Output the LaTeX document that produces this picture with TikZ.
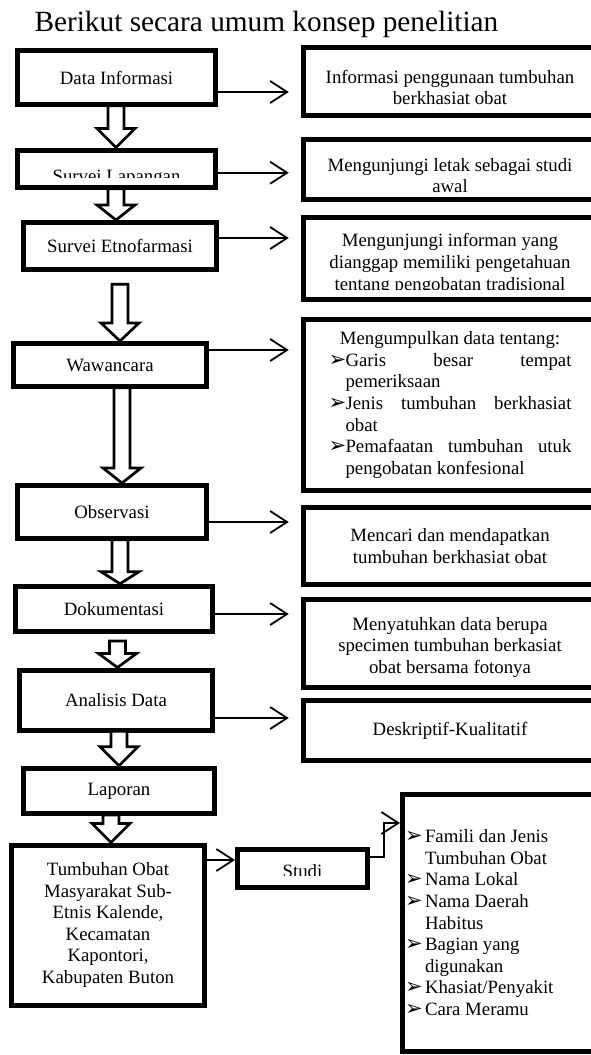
\documentclass[tikz,border=0pt]{standalone}
\usepackage{fontspec}
\setmainfont{Liberation Serif}
\newfontfamily\arrowfont{DejaVu Sans}
\usepackage{trimclip}
\usetikzlibrary{arrows.meta,calc}
\hyphenpenalty=10000
\setlength{\parindent}{0pt}
\newcommand{\bodyfont}{\fontsize{18.8}{21.6}\selectfont}
\newcommand{\titlefont}{\fontsize{29.3}{33}\selectfont}
\newcommand{\bul}{\smash{\arrowfont\fontsize{21}{21}\selectfont ➢}}
\newcommand{\bbox}{\makebox[20pt][l]{\bul}}
\newcommand{\bitem}[1]{\par\hangindent=17pt\hangafter=1\noindent\makebox[17pt][l]{\bul}#1}
\newcommand{\drop}[1]{\rule{0pt}{#1pt}}
\newcommand{\fatarrow}[5]{%
  \draw[hollow] let \p1=(#1.south), \p2=(#2.north) in
    ({#3-8},{\y1+1.3-#4}) -- ({#3+8},{\y1+1.3-#4}) -- ({#3+8},{\y2+#5}) -- ({#3+19},{\y2+#5})
    -- (#3,\y2) -- ({#3-19},{\y2+#5}) -- ({#3-8},{\y2+#5}) -- cycle;}

\begin{document}
\begin{tikzpicture}[x=1pt,y=-1pt,
  box/.style={draw,line width=5pt,align=center,font=\bodyfont,inner sep=2pt},
  side/.style={box,minimum width=293.5pt},
  link/.style={line width=1.8pt,-{Straight Barb[length=17pt,width=22pt]}},
  hollow/.style={draw,fill=white,line width=2.7pt,line join=miter}]
\useasboundingbox (0,0) rectangle (591,1055);
\clip (0,0) rectangle (591,1055);

\node[anchor=base west,font=\titlefont] (title) at (31,31) {Berikut secara umum konsep penelitian};

\node[box,minimum width=198pt,minimum height=54pt] (data) at (116.5,77.5) {Data Informasi};
\node[box,minimum width=198pt,minimum height=37.5pt,text height=17.5pt,text depth=0pt] (lapangan) at (116.5,168.75) {\clipbox{0pt 8.6pt 0pt 0pt}{Survei Lapangan}};
\node[box,minimum width=193pt,minimum height=47pt] (etno) at (120,246) {Survei Etnofarmasi};
\node[box,minimum width=193pt,minimum height=43pt] (wawancara) at (110,365) {Wawancara};
\node[box,minimum width=189pt,minimum height=53pt] (observasi) at (112,512) {Observasi};
\node[box,minimum width=197pt,minimum height=45.5pt] (dokumentasi) at (114,609) {Dokumentasi};
\node[box,minimum width=193pt,minimum height=60pt] (analisis) at (116,700) {Analisis Data};
\node[box,minimum width=191pt,minimum height=45.5pt] (laporan) at (119,791) {Laporan};
\node[box,minimum width=193pt,minimum height=160pt] (tumbuhan) at (108,925) {Tumbuhan Obat\\Masyarakat Sub-\\Etnis Kalende,\\Kecamatan\\Kapontori,\\Kabupaten Buton};
\node[box,minimum width=130pt,minimum height=38pt,text height=14pt,text depth=0pt] (studi) at (302.5,868.5) {\clipbox{0pt 2pt 0pt 0pt}{Studi}};

\node[side,minimum height=68pt] (info) at (450,81.5) {\drop{25}Informasi penggunaan tumbuhan\\berkhasiat obat};
\node[side,minimum height=60pt] (letak) at (450,169.5) {\drop{25}Mengunjungi letak sebagai studi\\awal};
\node[side,minimum height=82pt] (informan) at (450,258.5) {\drop{19}Mengunjungi informan yang\\dianggap memiliki pengetahuan\\\clipbox{0pt 5pt 0pt 0pt}{tentang pengobatan tradisional}};
\node[side,minimum height=171pt,text width=243pt,align=justify] (kumpul) at (450,405) {\makebox[\linewidth]{Mengumpulkan data tentang:}
  \bitem{Garis besar tempat pemeriksaan}
  \bitem{Jenis tumbuhan berkhasiat obat}
  \bitem{Pemafaatan tumbuhan utuk pengobatan konfesional}\par};
\node[side,minimum height=77pt] (cari) at (450,546) {Mencari dan mendapatkan\\tumbuhan berkhasiat obat};
\node[side,minimum height=88pt] (satu) at (450,643.5) {\drop{21}Menyatuhkan data berupa\\specimen tumbuhan berkasiat\\obat bersama fotonya};
\node[side,minimum height=60pt] (deskriptif) at (450,730.5) {Deskriptif-Kualitatif};
\node[box,anchor=north west,text width=200pt,align=flush left,inner xsep=2.5pt,inner ysep=0pt,minimum height=257pt] (hasil) at (400,792) {\bbox Famili dan Jenis\\ \hspace*{20pt}Tumbuhan Obat\\ \bbox Nama Lokal\\ \bbox Nama Daerah\\ \hspace*{20pt}Habitus\\ \bbox Bagian yang\\ \hspace*{20pt}digunakan\\ \bbox Khasiat/Penyakit\\ \bbox Cara Meramu\rule[-1pt]{0pt}{1pt}};

\draw[link,shorten >=12pt] ([yshift=-14.5pt]data.east) coordinate (a1) -- (a1 -| info.west);
\draw[link,shorten >=12pt] ([yshift=-4pt]lapangan.east) coordinate (a2) -- (a2 -| letak.west);
\draw[link,shorten >=12pt] ([yshift=8pt]etno.east) coordinate (a3) -- (a3 -| informan.west);
\draw[link,shorten >=12pt] ([yshift=15pt]wawancara.east) coordinate (a4) -- (a4 -| kumpul.west);
\draw[link,shorten >=12pt] ([yshift=-10pt]observasi.east) coordinate (a5) -- (a5 -| cari.west);
\draw[link,shorten >=12pt] ([yshift=-5pt]dokumentasi.east) coordinate (a6) -- (a6 -| satu.west);
\draw[link,shorten >=12pt] ([yshift=-18pt]analisis.east) coordinate (a7) -- (a7 -| deskriptif.west);
\draw[link] ([yshift=65pt]tumbuhan.east) coordinate (a8) -- (a8 -| studi.west);
\draw[link] ([yshift=11.5pt]studi.east) -- ++(14,0) |- ([yshift=-31pt]hasil.north west);

\fatarrow{data}{lapangan}{116}{0}{19}
\fatarrow{lapangan}{etno}{116}{0}{15}
\fatarrow{etno}{wawancara}{120}{13.5}{18}
\fatarrow{wawancara}{observasi}{122}{0}{15}
\fatarrow{observasi}{dokumentasi}{120}{0}{12}
\fatarrow{dokumentasi}{analisis}{117.5}{8}{14}
\fatarrow{analisis}{laporan}{119}{0}{19}
\fatarrow{laporan}{tumbuhan}{111}{0}{19}
\end{tikzpicture}
\end{document}
